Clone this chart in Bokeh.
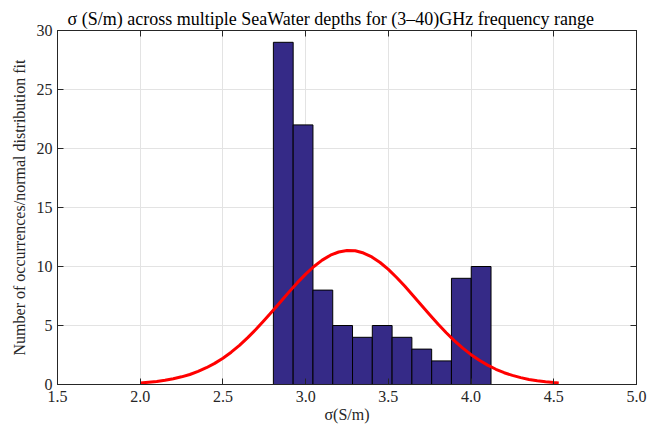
from bokeh.plotting import figure
from bokeh.models import LinearAxis, Range1d, FixedTicker, NumeralTickFormatter
from bokeh.embed import file_html
from bokeh.resources import INLINE

# Histogram bins (sigma, S/m) and counts
bin_left = [2.805, 2.9246, 3.0442, 3.1638, 3.2834, 3.403, 3.5226, 3.6422, 3.7618, 3.8814, 4.001]
bin_right = [2.9246, 3.0442, 3.1638, 3.2834, 3.403, 3.5226, 3.6422, 3.7618, 3.8814, 4.001, 4.1206]
counts = [29, 22, 8, 5, 4, 5, 4, 3, 2, 9, 10]

# Normal distribution fit curve
fit_x = [2.00, 2.05, 2.10, 2.15, 2.20, 2.25, 2.30, 2.35, 2.40, 2.45, 2.50, 2.55, 2.60, 2.65,
         2.70, 2.75, 2.80, 2.85, 2.90, 2.95, 3.00, 3.05, 3.10, 3.15, 3.20, 3.25, 3.30, 3.35,
         3.40, 3.45, 3.50, 3.55, 3.60, 3.65, 3.70, 3.75, 3.80, 3.85, 3.90, 3.95, 4.00, 4.05,
         4.10, 4.15, 4.20, 4.25, 4.30, 4.35, 4.40, 4.45, 4.50, 4.53]
fit_y = [0.13, 0.19, 0.26, 0.36, 0.49, 0.65, 0.85, 1.11, 1.42, 1.79, 2.23, 2.74, 3.32, 3.97,
         4.68, 5.44, 6.23, 7.04, 7.85, 8.63, 9.35, 10.00, 10.54, 10.96, 11.23, 11.36, 11.33, 11.14,
         10.81, 10.34, 9.75, 9.07, 8.32, 7.53, 6.72, 5.91, 5.13, 4.39, 3.70, 3.08, 2.53, 2.05,
         1.64, 1.29, 1.00, 0.77, 0.58, 0.43, 0.32, 0.23, 0.16, 0.13]

x_ticks = [1.5, 2.0, 2.5, 3.0, 3.5, 4.0, 4.5, 5.0]
y_ticks = [0, 5, 10, 15, 20, 25, 30]

FONT = "Liberation Serif"
AX = "#262626"

p = figure(width=655, height=428, output_backend="svg", toolbar_location=None,
           x_range=Range1d(1.5, 5.0), y_range=Range1d(0, 30),
           min_border_left=57, min_border_right=19, min_border_top=30, min_border_bottom=44,
           x_axis_label="σ(S/m)", y_axis_label="Number of occurrences/normal distribution fit")

p.title.text = "σ (S/m) across multiple SeaWater depths for (3–40)GHz frequency range"
p.title.align = "left"
p.title.offset = 10
p.title.text_font = FONT
p.title.text_font_size = "18px"
p.title.text_font_style = "normal"
p.title.text_color = "#000000"
p.title.standoff = 3

p.outline_line_color = AX
p.outline_line_width = 1
p.background_fill_color = "white"
p.border_fill_color = "white"

for g in (p.xgrid, p.ygrid):
    g.grid_line_color = "#e3e3e3"
    g.grid_line_width = 1
p.xgrid.ticker = FixedTicker(ticks=x_ticks)
p.ygrid.ticker = FixedTicker(ticks=y_ticks)

def style_axis(ax, ticks, fmt, labels=True):
    ax.ticker = FixedTicker(ticks=ticks)
    ax.formatter = NumeralTickFormatter(format=fmt)
    ax.major_tick_in = 6
    ax.major_tick_out = 0
    ax.minor_tick_line_color = None
    ax.axis_line_color = AX
    ax.major_tick_line_color = AX
    ax.major_label_text_font = FONT
    ax.axis_label_text_font = FONT
    ax.axis_label_text_font_size = "16px"
    ax.axis_label_text_font_style = "normal"
    ax.axis_label_text_color = AX
    if labels:
        ax.major_label_text_font_size = "16px"
        ax.major_label_text_color = AX
        ax.major_label_standoff = 6
    else:
        ax.major_label_text_font_size = "1px"
        ax.major_label_text_color = None
        ax.major_label_standoff = 0

style_axis(p.xaxis[0], x_ticks, "0.0")
style_axis(p.yaxis[0], y_ticks, "0")
p.xaxis[0].axis_label_standoff = 1
p.yaxis[0].axis_label_standoff = 6
p.yaxis[0].major_label_standoff = 5

top_ax = LinearAxis()
style_axis(top_ax, x_ticks, "0.0", labels=False)
p.add_layout(top_ax, "above")
right_ax = LinearAxis()
style_axis(right_ax, y_ticks, "0", labels=False)
p.add_layout(right_ax, "right")

p.quad(left=bin_left, right=bin_right, top=counts, bottom=0,
       fill_color="#352A87", line_color="#000000", line_width=1)
p.line(fit_x, fit_y, line_color="#FF0000", line_width=3, line_join="round")

open("out.html", "w").write(file_html(p, INLINE))
